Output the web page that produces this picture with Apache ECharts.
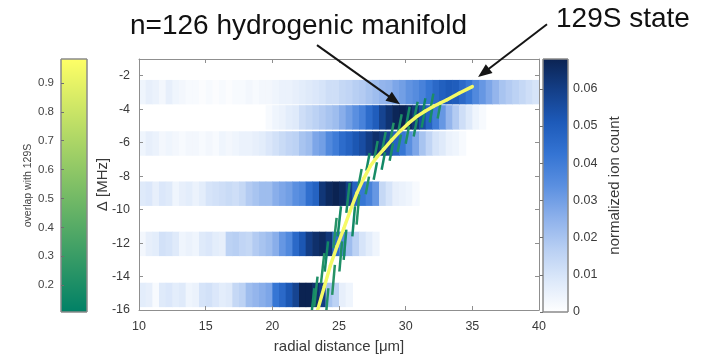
<!DOCTYPE html>
<html>
<head>
<meta charset="utf-8">
<script src="https://cdn.jsdelivr.net/npm/echarts@6/dist/echarts.min.js"></script>
<style>
  html, body { margin: 0; padding: 0; background: #ffffff; }
  #chart { width: 707px; height: 360px; }
</style>
</head>
<body>
<div id="chart"></div>
<script>
// ---- axis ticks -------------------------------------------------------
const xTicks = [10, 15, 20, 25, 30, 35, 40];
const yTicks = [-16, -14, -12, -10, -8, -6, -4, -2];
const overlapTicks = [0.2, 0.3, 0.4, 0.5, 0.6, 0.7, 0.8, 0.9];
const ionTicks = [0, 0.01, 0.02, 0.03, 0.04, 0.05, 0.06];
const overlapRange = [0.107, 0.983];
const ionRange = [0, 0.068];

// ---- ion-count map: six detuning bands, 0.5 um radial bins from 10 um ----
const binStart = 10;
const binWidth = 0.5;
const bandCenters = [-2.98, -4.49, -6.05, -9.05, -12.05, -15.1];
const bandHalfHeight = 0.73;

const band1 = [0.004, 0.006, 0.005, 0.003, 0.006, 0.004, 0.003, 0.002,
  0.002, 0.001, 0.002, 0.001, 0.002, 0.001, 0.002, 0.002, 0.003, 0.002, 0.003, 0.003,
  0.004, 0.005, 0.005, 0.006, 0.007, 0.008,
  0.009, 0.010, 0.012, 0.012,
  0.014, 0.015, 0.017, 0.018,
  0.020, 0.022, 0.024, 0.025,
  0.028, 0.030, 0.033, 0.035,
  0.038, 0.042, 0.046, 0.049,
  0.051, 0.050, 0.046, 0.042,
  0.036, 0.032, 0.028, 0.024,
  0.020, 0.018, 0.016, 0.014,
  0.012, 0.010];
const band2 = [0, 0, 0, 0, 0, 0, 0, 0, 0, 0, 0, 0, 0, 0, 0, 0, 0, 0, 0, 0.002,
  0.004, 0.005, 0.007, 0.008, 0.012, 0.014, 0.016, 0.018, 0.020, 0.022,
  0.026, 0.030, 0.034, 0.038, 0.045, 0.050, 0.058, 0.063,
  0.067, 0.068, 0.066, 0.062, 0.055, 0.048, 0.040, 0.032,
  0.024, 0.018, 0.012, 0.008, 0.004, 0.002];
const band3 = [0.004, 0.006, 0.005, 0.003, 0.004, 0.003, 0.002, 0.003,
  0.003, 0.002, 0.003, 0.002, 0.004, 0.003, 0.004, 0.005,
  0.005, 0.006, 0.007, 0.009, 0.011, 0.013, 0.015, 0.016,
  0.020, 0.022, 0.028, 0.030, 0.036, 0.040, 0.045, 0.048,
  0.052, 0.055, 0.060, 0.064, 0.062, 0.058, 0.048, 0.042,
  0.034, 0.028, 0.020, 0.015, 0.010, 0.008, 0.005, 0.004, 0.002];
const band4 = [0.008, 0.009, 0.006, 0.009, 0.008, 0.004,
  0.006, 0.007, 0.005, 0.007, 0.010, 0.011,
  0.012, 0.013, 0.012, 0.014, 0.018, 0.020, 0.022, 0.022,
  0.026, 0.028, 0.030, 0.034, 0.036, 0.044, 0.048,
  0.062, 0.066, 0.068, 0.066, 0.060,
  0.048, 0.042, 0.038, 0.032, 0.014, 0.010,
  0.006, 0.005, 0.004, 0.002];
const band5 = [0.003, 0.006, 0.007, 0.011, 0.010, 0.008, 0.004, 0.005, 0.004,
  0.008, 0.009, 0.007, 0.006, 0.016, 0.017, 0.015, 0.014, 0.018, 0.020,
  0.022, 0.026, 0.032, 0.036, 0.046, 0.052, 0.060, 0.064,
  0.066, 0.062, 0.044, 0.036, 0.022, 0.016, 0.010, 0.007, 0.004];
const band6 = [0.007, 0.006, 0.002, 0.008, 0.009, 0.007, 0.008, 0.004, 0.005,
  0.010, 0.011, 0.009, 0.007, 0.008, 0.014, 0.016,
  0.022, 0.024, 0.026, 0.028, 0.042, 0.046, 0.052, 0.058,
  0.068, 0.068, 0.064, 0.060, 0.020, 0.016, 0.006, 0.004];
const bands = [band1, band2, band3, band4, band5, band6];

// ---- manifold state crossings: [x0, y0, x1, y1, overlap] ----------------
const crossingSegments = [
  // steep part, left and right of the 129S line
  [22.90, -16.5, 23.15, -14.7, 0.18], [24.00, -16.5, 24.20, -14.7, 0.22],
  [23.14, -15.8, 23.39, -14.0, 0.21],
  [24.49, -15.1, 24.69, -13.3, 0.24],
  [23.65, -14.4, 23.90, -12.6, 0.23],
  [23.93, -13.7, 24.18, -11.9, 0.17], [25.03, -13.7, 25.23, -11.9, 0.21],
  [25.35, -13.0, 25.55, -11.2, 0.19],
  [24.57, -12.3, 24.82, -10.5, 0.24],
  [24.90, -11.6, 25.15, -9.8, 0.18], [26.00, -11.6, 26.20, -9.8, 0.17],
  [26.32, -10.9, 26.52, -9.1, 0.23],
  [25.55, -10.2, 25.80, -8.4, 0.19],
  // bending part, alternately above and below the 129S line
  [26.45, -8.62, 26.70, -7.57, 0.22],
  [27.00, -9.08, 27.25, -8.03, 0.23],
  [27.05, -7.67, 27.30, -6.62, 0.17],
  [27.60, -8.22, 27.85, -7.17, 0.19],
  [27.65, -6.95, 27.90, -5.90, 0.20],
  [28.20, -7.62, 28.45, -6.57, 0.17],
  [28.25, -6.41, 28.50, -5.36, 0.21],
  [28.80, -7.08, 29.05, -6.03, 0.20],
  [28.85, -5.86, 29.10, -4.81, 0.23],
  [29.40, -6.56, 29.65, -5.51, 0.22],
  [29.45, -5.35, 29.70, -4.30, 0.20],
  [30.00, -6.07, 30.25, -5.02, 0.21],
  [30.05, -4.90, 30.30, -3.85, 0.18],
  [30.60, -5.63, 30.85, -4.58, 0.20],
  [30.65, -4.51, 30.90, -3.56, 0.19],
  [31.20, -5.10, 31.40, -4.25, 0.18],
  [31.28, -4.19, 31.48, -3.34, 0.17],
  [31.80, -4.80, 32.00, -3.95, 0.19],
  [31.88, -3.92, 32.08, -3.07, 0.20],
  [32.40, -4.55, 32.60, -3.70, 0.22]
];

// ---- 129S state trajectory ------------------------------------------------
const stateX = [23.40, 23.90, 24.35, 24.85, 25.35, 25.85, 26.35, 26.85, 27.35, 27.85, 28.35,
  28.95, 29.60, 30.20, 30.85, 31.45, 32.10, 32.60, 33.10, 34.00, 35.00];
const stateY = [-16.0, -14.6, -13.35, -12.2, -11.15, -10.05, -9.0, -8.15, -7.4, -6.85, -6.4,
  -5.85, -5.3, -4.85, -4.43, -4.12, -3.83, -3.63, -3.43, -3.05, -2.65];
const stateOverlap = [0.95, 0.95, 0.94, 0.95, 0.95, 0.94, 0.95, 0.95, 0.95, 0.94, 0.95,
  0.95, 0.95, 0.94, 0.95, 0.95, 0.95, 0.95, 0.95, 0.95, 0.95];

// ---- colour maps ----------------------------------------------------------
const ionColors = ['#ffffff', '#dde9fa', '#b8cff3', '#8cb0eb', '#5a8fe0',
  '#3474d3', '#1d5ab9', '#143f88', '#0b2352'];
const overlapColors = ['#008066', '#ffff66'];

const FONT = '"Liberation Sans", Arial, Helvetica, sans-serif';
const axisGray = '#8f8f8f';
const labelGray = '#3a3a3a';

// heat cells
const heatData = [];
bands.forEach((vals, b) => {
  vals.forEach((v, i) => {
    if (v > 0) heatData.push([binStart + i * binWidth, bandCenters[b], v]);
  });
});
const curveData = stateX.map((x, i) => [x, stateY[i], stateOverlap[i]]);

function gradientStops(colors) {
  // top of the bar = highest value
  const n = colors.length;
  return colors.slice().reverse().map((c, i) => ({ offset: i / (n - 1), color: c }));
}

function colorbarItem(stops) {
  return function (params, api) {
    const p0 = api.coord([0, api.value(3)]);
    const p1 = api.coord([1, api.value(1)]);
    return {
      type: 'rect',
      shape: { x: p0[0], y: p0[1], width: p1[0] - p0[0], height: p1[1] - p0[1] },
      style: {
        fill: new echarts.graphic.LinearGradient(0, 0, 0, 1, stops),
        stroke: '#8a8a8a', lineWidth: 1
      }
    };
  };
}

const mainX = (pos, labels) => ({
  gridIndex: 0, type: 'value', position: pos, min: 10, max: 40, interval: 5, z: 5,
  axisLine: { show: true, onZero: false, lineStyle: { color: axisGray, width: 1 } },
  axisTick: { show: true, inside: true, length: 4, lineStyle: { color: axisGray }, customValues: xTicks },
  axisLabel: { show: labels, color: labelGray, fontSize: 12.5, fontFamily: FONT, margin: 10, customValues: xTicks },
  splitLine: { show: false }
});
const mainY = (pos, labels) => ({
  gridIndex: 0, type: 'value', position: pos, min: -16, max: -1, z: 5,
  axisLine: { show: true, onZero: false, lineStyle: { color: axisGray, width: 1 } },
  axisTick: { show: true, inside: true, length: 4, lineStyle: { color: axisGray }, customValues: yTicks },
  axisLabel: { show: labels, color: labelGray, fontSize: 12.5, fontFamily: FONT, margin: 9, customValues: yTicks },
  splitLine: { show: false }
});

const xBottom = mainX('bottom', true);
Object.assign(xBottom, {
  name: 'radial distance [μm]', nameLocation: 'middle', nameGap: 29, nameMoveOverlap: false,
  nameTextStyle: { color: labelGray, fontSize: 15, fontFamily: FONT }
});
const yLeft = mainY('left', true);
Object.assign(yLeft, {
  name: 'Δ [MHz]', nameLocation: 'middle', nameGap: 29, nameRotate: 90, nameMoveOverlap: false,
  nameTextStyle: { color: labelGray, fontSize: 15, fontFamily: FONT }
});

const option = {
  animation: false,
  backgroundColor: '#ffffff',
  textStyle: { fontFamily: FONT },
  grid: [
    { left: 139, top: 59, width: 400, height: 251 },
    { left: 61, top: 59, width: 26, height: 253 },
    { left: 543, top: 59, width: 25, height: 253 }
  ],
  xAxis: [
    xBottom,
    mainX('top', false),
    { gridIndex: 1, type: 'value', min: 0, max: 1, show: false },
    { gridIndex: 2, type: 'value', min: 0, max: 1, show: false }
  ],
  yAxis: [
    yLeft,
    mainY('right', false),
    {
      gridIndex: 1, type: 'value', position: 'left', min: overlapRange[0], max: overlapRange[1], z: 5,
      axisLine: { show: false },
      axisTick: { show: true, inside: true, length: 3, lineStyle: { color: '#6f6f6f' }, customValues: overlapTicks },
      axisLabel: { color: '#444', fontSize: 11.5, fontFamily: FONT, margin: 7, customValues: overlapTicks },
      splitLine: { show: false },
      name: 'overlap with 129S', nameLocation: 'middle', nameGap: 27, nameRotate: 90, nameMoveOverlap: false,
      nameTextStyle: { color: '#444', fontSize: 10.5, fontFamily: FONT }
    },
    {
      gridIndex: 2, type: 'value', position: 'right', min: ionRange[0], max: ionRange[1], z: 5,
      axisLine: { show: false },
      axisTick: { show: true, inside: true, length: 3, lineStyle: { color: '#6f6f6f' }, customValues: ionTicks },
      axisLabel: { color: labelGray, fontSize: 12.5, fontFamily: FONT, margin: 5, customValues: ionTicks },
      splitLine: { show: false },
      name: 'normalized ion count', nameLocation: 'middle', nameGap: 39, nameRotate: 90, nameMoveOverlap: false,
      nameTextStyle: { color: labelGray, fontSize: 15, fontFamily: FONT }
    }
  ],
  visualMap: [
    { type: 'continuous', show: false, seriesIndex: 0, dimension: 2,
      min: ionRange[0], max: ionRange[1], inRange: { color: ionColors } },
    { type: 'continuous', show: false, seriesIndex: 1, dimension: 4,
      min: overlapRange[0], max: overlapRange[1], inRange: { color: overlapColors } },
    { type: 'continuous', show: false, seriesIndex: 2, dimension: 2,
      min: overlapRange[0], max: overlapRange[1], inRange: { color: overlapColors } }
  ],
  series: [
    {
      // ion-count map
      type: 'custom', xAxisIndex: 0, yAxisIndex: 0, clip: true, z: 1,
      encode: { x: 0, y: 1 },
      data: heatData,
      renderItem(params, api) {
        const x0 = api.value(0), yc = api.value(1);
        const p0 = api.coord([x0, yc + bandHalfHeight]);
        const p1 = api.coord([x0 + binWidth, yc - bandHalfHeight]);
        return {
          type: 'rect',
          shape: { x: p0[0], y: p0[1], width: p1[0] - p0[0] + 0.6, height: p1[1] - p0[1] },
          style: { fill: api.visual('color') }
        };
      }
    },
    {
      // manifold crossings coloured by overlap
      type: 'custom', xAxisIndex: 0, yAxisIndex: 0, clip: true, z: 3,
      encode: { x: [0, 2], y: [1, 3] },
      data: crossingSegments,
      renderItem(params, api) {
        const a = api.coord([api.value(0), api.value(1)]);
        const b = api.coord([api.value(2), api.value(3)]);
        return {
          type: 'line',
          shape: { x1: a[0], y1: a[1], x2: b[0], y2: b[1] },
          style: { stroke: api.visual('color'), lineWidth: 2.5 }
        };
      }
    },
    {
      // 129S trajectory
      type: 'custom', xAxisIndex: 0, yAxisIndex: 0, clip: true, z: 4,
      encode: { x: 0, y: 1 },
      data: curveData,
      renderItem(params, api) {
        const i = params.dataIndexInside;
        if (i >= params.dataInsideLength - 1) return null;
        const a = api.coord([api.value(0, i), api.value(1, i)]);
        const b = api.coord([api.value(0, i + 1), api.value(1, i + 1)]);
        return {
          type: 'line',
          shape: { x1: a[0], y1: a[1], x2: b[0], y2: b[1] },
          style: { stroke: api.visual('color'), lineWidth: 3.4, lineCap: 'round' }
        };
      }
    },
    {
      type: 'custom', xAxisIndex: 2, yAxisIndex: 2, z: 2,
      encode: { x: [0, 2], y: [1, 3] },
      data: [[0, overlapRange[0], 1, overlapRange[1]]],
      renderItem: colorbarItem(gradientStops(overlapColors))
    },
    {
      type: 'custom', xAxisIndex: 3, yAxisIndex: 3, z: 2,
      encode: { x: [0, 2], y: [1, 3] },
      data: [[0, ionRange[0], 1, ionRange[1]]],
      renderItem: colorbarItem(gradientStops(ionColors))
    }
  ]
};

const chart = echarts.init(document.getElementById('chart'), null, { renderer: 'canvas' });
chart.setOption(option);

// ---- annotations (arrow ends given in plot units) -------------------------
const manifoldArrow = { from: [23.35, -0.17], to: [29.58, -3.71] };
const stateArrow = { from: [40.6, 1.08], to: [35.43, -2.08] };

function toPx(pt) {
  return chart.convertToPixel({ gridIndex: 0 }, pt);
}
function arrowShapes(arrow) {
  const a = toPx(arrow.from), b = toPx(arrow.to);
  const dx = b[0] - a[0], dy = b[1] - a[1];
  const L = Math.hypot(dx, dy);
  const ux = dx / L, uy = dy / L;
  const headLen = 14, headHalf = 5.5;
  const bx = b[0] - ux * headLen, by = b[1] - uy * headLen;
  return [
    { type: 'line', z: 100, shape: { x1: a[0], y1: a[1], x2: bx + ux * 2, y2: by + uy * 2 },
      style: { stroke: '#151515', lineWidth: 2 } },
    { type: 'polygon', z: 100,
      shape: { points: [[b[0], b[1]], [bx - uy * headHalf, by + ux * headHalf], [bx + uy * headHalf, by - ux * headHalf]] },
      style: { fill: '#151515' } }
  ];
}

chart.setOption({
  graphic: [
    { type: 'text', z: 100, x: 130, y: 26,
      style: { text: 'n=126 hydrogenic manifold', font: '28px ' + FONT, fill: '#111111',
        align: 'left', verticalAlign: 'middle' } },
    { type: 'text', z: 100, x: 556, y: 19.5,
      style: { text: '129S state', font: '28px ' + FONT, fill: '#111111',
        align: 'left', verticalAlign: 'middle' } }
  ].concat(arrowShapes(manifoldArrow), arrowShapes(stateArrow))
});
</script>
</body>
</html>
